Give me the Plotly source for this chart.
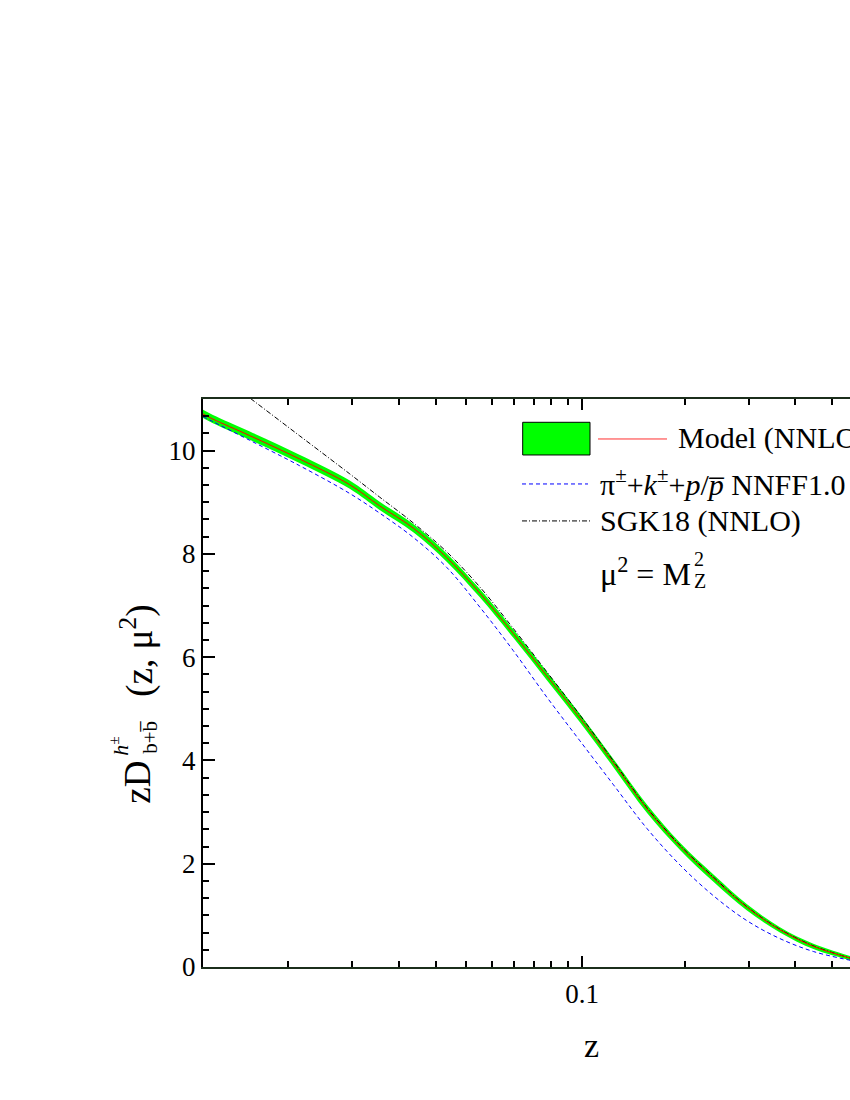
import numpy as np
import plotly.graph_objects as go

# x axis on the reference is logarithmic in (z + offset)
Z_OFFSET = 0.022

z = [-0.0086, -0.0078, -0.0044, 0.0015, 0.0095, 0.0155, 0.0236, 0.0334, 0.0452, 0.0596,
     0.0772, 0.0984, 0.124, 0.156, 0.194, 0.240, 0.296, 0.364, 0.447, 0.559, 0.586]

model = [10.71, 10.61, 10.29, 9.84, 9.34, 8.93, 8.50, 7.93, 7.24, 6.46,
         5.64, 4.82, 3.96, 3.06, 2.33, 1.72, 1.16, 0.72, 0.40, 0.17, 0.12]
model_err = [0.08, 0.08, 0.08, 0.08, 0.08, 0.08, 0.08, 0.08, 0.08, 0.08,
             0.08, 0.08, 0.08, 0.08, 0.07, 0.07, 0.06, 0.05, 0.05, 0.04, 0.04]
nnff = [10.66, 10.56, 10.20, 9.71, 9.17, 8.79, 8.32, 7.74, 6.97, 6.13,
        5.23, 4.38, 3.54, 2.68, 1.97, 1.38, 0.90, 0.55, 0.30, 0.13, 0.10]
sgk18 = [11.71, 11.56, 11.02, 10.29, 9.55, 9.10, 8.60, 8.04, 7.36, 6.56,
         5.72, 4.88, 4.00, 3.08, 2.35, 1.74, 1.17, 0.73, 0.41, 0.17, 0.12]

x_major = [0.1]
x_major_text = ["0.1"]
x_minor = [0.0, 0.01, 0.02, 0.03, 0.04, 0.05, 0.06, 0.07, 0.08, 0.09, 0.2, 0.3, 0.4, 0.5]
x_range = [-0.0086, 0.5585]
y_range = [0, 11]


def zscale(v):
    return np.log10(np.asarray(v, dtype=float) + Z_OFFSET)


FONT = "Liberation Serif, Times New Roman, serif"
u = zscale(z)
up = np.array(model) + np.array(model_err)
lo = np.array(model) - np.array(model_err)

fig = go.Figure()

# banda de incerteza do modelo
fig.add_trace(go.Scatter(x=np.concatenate([u, u[::-1]]), y=np.concatenate([up, lo[::-1]]),
                         fill="toself", fillcolor="#00ff00", line=dict(width=0, shape="spline"),
                         mode="lines", hoverinfo="skip", showlegend=False))
fig.add_trace(go.Scatter(x=u, y=nnff, mode="lines", showlegend=False,
                         line=dict(color="#0000ff", width=1, dash="4px,3px", shape="spline")))
fig.add_trace(go.Scatter(x=u, y=sgk18, mode="lines", showlegend=False,
                         line=dict(color="#000000", width=1, dash="5px,2px,1px,2px", shape="spline")))
fig.add_trace(go.Scatter(x=u, y=model, mode="lines", showlegend=False,
                         line=dict(color="#ff0000", width=1, shape="spline")))

fig.update_xaxes(
    range=list(zscale(x_range)), showline=True, linecolor="#1b2e1b", linewidth=2,
    mirror="ticks", ticks="inside", ticklen=11, tickwidth=2, tickcolor="black",
    tickvals=list(zscale(x_major)), ticktext=x_major_text, ticklabelstandoff=2,
    tickfont=dict(family=FONT, size=27, color="black"), showgrid=False, zeroline=False,
    minor=dict(tickvals=list(zscale(x_minor)), ticks="inside", ticklen=6, tickwidth=2,
               tickcolor="black", showgrid=False),
)
fig.update_yaxes(
    range=y_range, showline=True, linecolor="black", linewidth=2, mirror=False,
    ticks="inside", ticklen=12, tickwidth=2, tickcolor="black", dtick=2, tick0=0,
    ticklabelstandoff=0, tickfont=dict(family=FONT, size=27, color="black"),
    showgrid=False, zeroline=False,
    minor=dict(dtick=2 / 6, tick0=0, ticks="inside", ticklen=6, tickwidth=2,
               tickcolor="black", showgrid=False),
)

# plot box in page pixels
W0, W1, H0, H1 = 203, 850, 399, 967.3


def px(x):
    return (x - W0) / (W1 - W0)


def py(y):
    return (H1 - y) / (H1 - H0)


# legenda desenhada à mão
shapes = [
    dict(type="rect", xref="paper", yref="paper", x0=px(522.7), x1=px(590), y0=py(455), y1=py(422.3),
         fillcolor="#00ff00", line=dict(color="black", width=1)),
    dict(type="line", xref="paper", yref="paper", x0=px(598), x1=px(667), y0=py(439), y1=py(439),
         line=dict(color="#ff3030", width=1)),
    dict(type="line", xref="paper", yref="paper", x0=px(522), x1=px(588), y0=py(484), y1=py(484),
         line=dict(color="#0000ff", width=1, dash="4px,3px")),
    dict(type="line", xref="paper", yref="paper", x0=px(522), x1=px(590), y0=py(521), y1=py(521),
         line=dict(color="black", width=1, dash="5px,2px,1px,2px")),
]
fig.update_layout(shapes=shapes)

ann = [
    ("Model (NNLO)", 676, 438, 30),
    ("π<sup>±</sup>+<i>k</i><sup>±</sup>+<i>p</i>/<i>p̅</i> NNFF1.0", 598, 482, 30),
    ("SGK18 (NNLO)", 598, 521, 30),
    ("μ<sup>2</sup> = M", 598, 572, 32),
]
for text, x, y, size in ann:
    fig.add_annotation(text=text, xref="paper", yref="paper", x=px(x), y=py(y),
                       xanchor="left", yanchor="middle", showarrow=False,
                       font=dict(family=FONT, size=size, color="black"))
# índices empilhados de M
fig.add_annotation(text="2", xref="paper", yref="paper", x=px(692), y=py(559),
                   xanchor="left", yanchor="middle", showarrow=False,
                   font=dict(family=FONT, size=20, color="black"))
fig.add_annotation(text="Z", xref="paper", yref="paper", x=px(692), y=py(581),
                   xanchor="left", yanchor="middle", showarrow=False,
                   font=dict(family=FONT, size=20, color="black"))

# eixo z
fig.add_annotation(text="z", xref="paper", yref="paper", x=px(591), y=py(1046),
                   xanchor="center", yanchor="middle", showarrow=False,
                   font=dict(family=FONT, size=34, color="black"))

# título do eixo y (rodado)
ytitle = [
    ("zD", 138, 783, 37),
    ("<i>h</i><sup>±</sup>", 119, 747, 22),
    ("b+b̅", 150, 738, 21),
    ("(z, μ<sup>2</sup>)", 137, 651, 37),
]
for text, x, y, size in ytitle:
    fig.add_annotation(text=text, xref="paper", yref="paper", x=px(x), y=py(y),
                       xanchor="center", yanchor="middle", textangle=-90, showarrow=False,
                       font=dict(family=FONT, size=size, color="black"))

fig.update_layout(
    width=850, height=1100,
    margin=dict(l=203, r=0, t=399, b=133),
    plot_bgcolor="white", paper_bgcolor="white",
    showlegend=False,
)

# sem margem do body nem barras de rolagem
fig.write_html("out.html", config={"displayModeBar": False},
               post_script="document.body.style.margin='0';document.body.style.overflow='hidden';")
